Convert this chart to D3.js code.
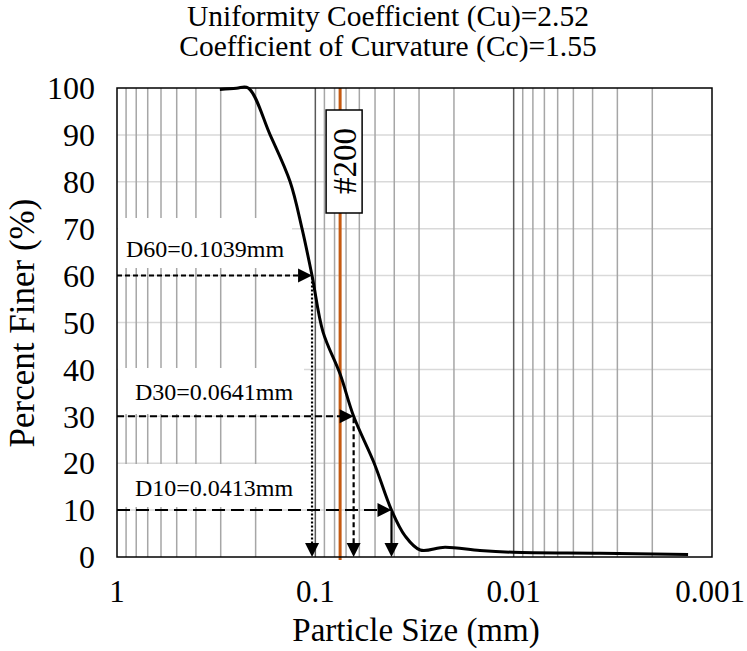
<!DOCTYPE html>
<html><head><meta charset="utf-8">
<script src="https://cdn.jsdelivr.net/npm/d3@7"></script>
<style>body{margin:0;background:#fff;} text{font-family:"Liberation Serif","Times New Roman",serif;fill:#000;}</style>
</head><body><svg id="c" width="747" height="651"></svg>
<script>
// Gradation curve (particle size mm, percent finer %)
const sizes   = [0.303, 0.25, 0.218, 0.169, 0.134, 0.1167, 0.1039, 0.0915, 0.075, 0.0641, 0.0505, 0.0413, 0.0353, 0.0296, 0.0222, 0.0148, 0.01007, 0.00367, 0.00132];
const percent = [99.7, 99.95, 100, 90, 80, 70, 60, 48, 39, 30, 20, 10, 4.5, 1.5, 2.1, 1.4, 1.0, 0.8, 0.55];
const xTicks = [1, 0.1, 0.01, 0.001];
const xTickLabels = ["1", "0.1", "0.01", "0.001"];
const yTicks = [0, 10, 20, 30, 40, 50, 60, 70, 80, 90, 100];
const dLabels = ["D60=0.1039mm", "D30=0.0641mm", "D10=0.0413mm"];
const dSizes = [0.1039, 0.0641, 0.0413];
const dPercents = [60, 30, 10];
const sieveSize = 0.075, sieveLabel = "#200";
const titleLines = ["Uniformity Coefficient (Cu)=2.52", "Coefficient of Curvature (Cc)=1.55"];

const svg = d3.select("#c");
const L = 117, R = 712, T = 88, B = 557;
const x = d3.scaleLog().domain([1, 0.001]).range([L, R]);
const y = d3.scaleLinear().domain([0, 100]).range([B, T]);

// horizontal grid
svg.append("g").selectAll("line").data(yTicks.filter(d => d > 0 && d < 100)).join("line")
  .attr("x1", L).attr("x2", R).attr("y1", d => y(d)).attr("y2", d => y(d))
  .attr("stroke", "#d9d9d9").attr("stroke-width", 1.5);
// minor vertical grid
const minor = [];
[1, 0.1, 0.01].forEach(dec => { for (let k = 2; k <= 9; k++) minor.push(dec * k / 10); });
svg.append("g").selectAll("line").data(minor).join("line")
  .attr("x1", d => x(d)).attr("x2", d => x(d)).attr("y1", T).attr("y2", B)
  .attr("stroke", "#a6a6a6").attr("stroke-width", 1.5);
svg.append("g").selectAll("line").data([0.1, 0.01]).join("line")
  .attr("x1", d => x(d)).attr("x2", d => x(d)).attr("y1", T).attr("y2", B)
  .attr("stroke", "#595959").attr("stroke-width", 1.5);

// label boxes (white) for D labels
const boxes = [[218, 268, 291], [368, 414, 303], [464, 507, 303]];
svg.append("g").selectAll("rect").data(boxes).join("rect")
  .attr("x", L + 1).attr("y", d => d[0]).attr("width", d => d[2] - L).attr("height", d => d[1] - d[0])
  .attr("fill", "#fff");

// #200 sieve line
svg.append("line").attr("x1", x(sieveSize)).attr("x2", x(sieveSize)).attr("y1", T).attr("y2", B + 3)
  .attr("stroke", "#c55a11").attr("stroke-width", 3);

// curve
svg.append("path").datum(sizes.map((s, i) => [s, percent[i]]))
  .attr("d", d3.line().x(d => x(d[0])).y(d => y(d[1])).curve(d3.curveCatmullRom.alpha(0.5)))
  .attr("fill", "none").attr("stroke", "#000").attr("stroke-width", 3);

// arrows
const hDash = ["5,3", "7,4", "13,6"];
const vDash = ["2,2", "5,3", null];
function arrowHead(g, tx, ty, dir) {
  const l = 14, w = 7;
  let pts;
  if (dir === "right") pts = [[tx, ty], [tx - l, ty - w], [tx - l, ty + w]];
  else pts = [[tx, ty], [tx - w, ty - l], [tx + w, ty - l]];
  g.append("path").attr("d", d3.line()(pts) + "Z").attr("fill", "#000");
}
const ag = svg.append("g");
dSizes.forEach((s, i) => {
  const px = x(s), py = y(dPercents[i]);
  ag.append("line").attr("x1", L).attr("x2", px - 12).attr("y1", py).attr("y2", py)
    .attr("stroke", "#000").attr("stroke-width", 2).attr("stroke-dasharray", hDash[i]);
  arrowHead(ag, px, py, "right");
  const v = ag.append("line").attr("x1", px).attr("x2", px).attr("y1", py + 2).attr("y2", B - 12)
    .attr("stroke", "#000").attr("stroke-width", 2.2);
  if (vDash[i]) v.attr("stroke-dasharray", vDash[i]);
  arrowHead(ag, px, B, "down");
});

// D labels
svg.append("g").selectAll("text").data(dLabels).join("text")
  .attr("x", (d, i) => i === 0 ? 126 : 135).attr("y", (d, i) => [257, 400, 496][i])
  .attr("font-size", 24).text(d => d);

// #200 label box
const sg = svg.append("g").attr("transform", `translate(${x(sieveSize) + 4},161)`);
sg.append("rect").attr("x", -18).attr("y", -51).attr("width", 36).attr("height", 103)
  .attr("fill", "#fff").attr("stroke", "#000").attr("stroke-width", 1.5);
sg.append("text").attr("transform", "rotate(-90)").attr("text-anchor", "middle").attr("dy", "0.35em")
  .attr("font-size", 33).text(sieveLabel);

// plot border
svg.append("rect").attr("x", L).attr("y", T).attr("width", R - L).attr("height", B - T)
  .attr("fill", "none").attr("stroke", "#000").attr("stroke-width", 1.5);

// axes labels
svg.append("g").selectAll("text").data(yTicks).join("text")
  .attr("x", 95).attr("y", d => y(d)).attr("dy", "0.35em").attr("text-anchor", "end")
  .attr("font-size", 32).text(d => d);
svg.append("g").selectAll("text").data(xTicks).join("text")
  .attr("x", (d, i) => i === xTicks.length - 1 ? 745 : x(d)).attr("y", 602)
  .attr("text-anchor", (d, i) => i === xTicks.length - 1 ? "end" : "middle")
  .attr("font-size", 31).text((d, i) => xTickLabels[i]);
svg.append("text").attr("x", 416).attr("y", 641).attr("text-anchor", "middle")
  .attr("font-size", 33).text("Particle Size (mm)");
svg.append("text").attr("transform", "translate(34,323) rotate(-90)").attr("text-anchor", "middle")
  .attr("font-size", 35).text("Percent Finer (%)");
svg.append("g").selectAll("text").data(titleLines).join("text")
  .attr("x", 388).attr("y", (d, i) => 26 + i * 30).attr("text-anchor", "middle")
  .attr("font-size", 29.5).text(d => d);
</script></body></html>
